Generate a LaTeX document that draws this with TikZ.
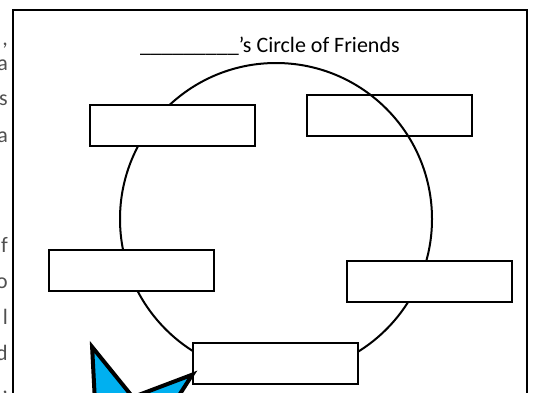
\documentclass[tikz,border=0pt]{standalone}
\usepackage{fontspec}
\setmainfont{Carlito}
\usepackage{tikz}
\usetikzlibrary{positioning}
\definecolor{starblue}{RGB}{0,176,240}
\definecolor{textgray}{RGB}{80,80,80}

\begin{document}
\begin{tikzpicture}[x=1pt,y=-1pt,
    friendbox/.style={draw=black,line width=2pt,minimum width=165pt,minimum height=41pt,inner sep=0pt},
    cutletter/.style={anchor=base east,inner sep=0pt,text=textgray,font=\fontsize{22}{26}\selectfont}]
  \useasboundingbox (0,0) rectangle (535,392);
  \clip (0,0) rectangle (535,392);
  % text of the page beside the sheet, cut off
  \foreach \y/\ch [count=\i] in {45/{,},70/a,105/s,142/a,252/f,288/o,324/l,360/d,393/{,}}{
    \node[cutletter] (cut\i) at (8,\y) {\ch};
  }
  % the sheet
  \draw[line width=2pt] (13,10) rectangle (527,400);
  \node[anchor=base west,inner sep=0pt,font=\fontsize{22}{26}\selectfont] (title) at (140,52)
    {\_\_\_\_\_\_\_\_\_’s Circle of Friends};
  \node[circle,draw,line width=2pt,minimum size=312pt,inner sep=0pt] (ring) at (276,219) {};
  % boxes for the names
  \node[friendbox] (boxne) at (389.5,115.5) {};
  \foreach \x/\y/\nm in {172.5/125.5/boxnw,131.7/270.8/boxw,429.8/281/boxe,275.5/363.3/boxs}{
    \node[friendbox,fill=white] (\nm) at (\x,\y) {};
  }
  % star in the corner
  \begin{scope}[shift={(124,430)}]
    \draw[line width=4pt,fill=starblue,line join=miter]
      (-111:89) -- (-75:34) -- (-39:88) -- (-3:34) -- (33:88) -- (69:34)
      -- (105:88) -- (141:34) -- (177:88) -- (213:34) -- cycle;
  \end{scope}
\end{tikzpicture}
\end{document}
